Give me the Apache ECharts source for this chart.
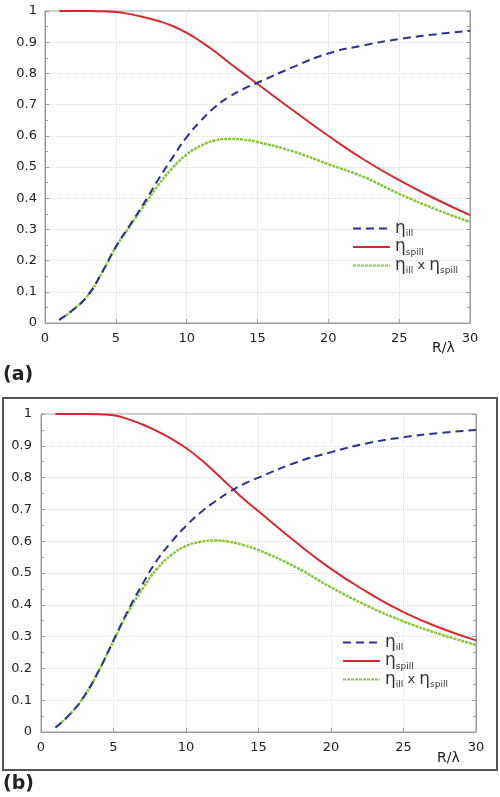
<!DOCTYPE html>
<html lang="en">
<head>
    <meta charset="UTF-8">
    <title>Efficiency vs R/lambda</title>
    <style>
        html, body { margin: 0; padding: 0; background: #fff; }
        #chart-container { width: 500px; height: 797px; }
    </style>
</head>
<body>
    <div id="chart-container"></div>
    <script src="https://cdn.jsdelivr.net/npm/echarts@6.0.0/dist/echarts.min.js"></script>
    <script>
        // R/lambda sample points (same for both panels)
        const rValues = [1, 2, 3, 4, 5, 6, 7, 8, 9, 10, 11, 12, 13, 14, 15, 17.5, 20, 22.5, 25, 27.5, 30];

        // panel (a)
        const illA   = [0.010, 0.043, 0.087, 0.160, 0.244, 0.314, 0.385, 0.460, 0.530, 0.596, 0.648, 0.692, 0.725, 0.750, 0.770, 0.820, 0.864, 0.890, 0.910, 0.925, 0.937];
        const spillA = [1.000, 1.000, 1.000, 0.999, 0.997, 0.990, 0.980, 0.968, 0.952, 0.930, 0.902, 0.870, 0.834, 0.800, 0.766, 0.682, 0.600, 0.524, 0.458, 0.399, 0.346];
        const prodA  = [0.010, 0.043, 0.087, 0.160, 0.243, 0.311, 0.377, 0.442, 0.497, 0.540, 0.568, 0.585, 0.590, 0.588, 0.580, 0.550, 0.509, 0.468, 0.414, 0.366, 0.324];

        // panel (b)
        const illB   = [0.014, 0.056, 0.114, 0.194, 0.288, 0.382, 0.465, 0.540, 0.598, 0.648, 0.690, 0.725, 0.755, 0.780, 0.800, 0.846, 0.880, 0.908, 0.927, 0.940, 0.950];
        const spillB = [1.000, 1.000, 1.000, 0.999, 0.996, 0.984, 0.967, 0.946, 0.922, 0.893, 0.858, 0.817, 0.774, 0.732, 0.694, 0.600, 0.513, 0.440, 0.377, 0.328, 0.288];
        const prodB  = [0.014, 0.056, 0.114, 0.194, 0.287, 0.376, 0.450, 0.513, 0.557, 0.585, 0.598, 0.602, 0.598, 0.587, 0.572, 0.520, 0.455, 0.397, 0.348, 0.308, 0.274];

        const yTicks = [0, 0.1, 0.2, 0.3, 0.4, 0.5, 0.6, 0.7, 0.8, 0.9, 1];
        const xTicks = [0, 5, 10, 15, 20, 25, 30];

        const legendText = {
            ill: '{e|η}{s|ill}',
            spill: '{e|η}{s|spill}',
            prod: '{e|η}{s|ill}{x| x }{e|η}{s|spill}'
        };

        function pairs(ys) {
            return rValues.map(function (r, i) { return [r, ys[i]]; });
        }

        var dom = document.getElementById('chart-container');
        var myChart = echarts.init(dom, null, { renderer: 'canvas' });

        const gridLine = { show: true, lineStyle: { color: '#dcdcdc', type: 'dotted', width: 1 } };
        const axisCol = '#9a9a9a';
        const labelStyle = { color: '#222', fontSize: 13, fontFamily: 'DejaVu Sans' };

        function xAxisFor(gridIndex) {
            return {
                type: 'value', gridIndex: gridIndex, min: 0, max: 30, interval: 5,
                axisLine: { show: true, lineStyle: { color: axisCol } },
                axisTick: { show: true, inside: true, length: 4, lineStyle: { color: axisCol } },
                axisLabel: Object.assign({ margin: 9, formatter: function (v) { return xTicks.indexOf(v) >= 0 ? v : ''; } }, labelStyle),
                splitLine: gridLine
            };
        }
        function yAxisFor(gridIndex, margin) {
            return {
                type: 'value', gridIndex: gridIndex, min: 0, max: 1, interval: 0.1,
                axisLine: { show: true, lineStyle: { color: axisCol } },
                axisTick: { show: true, inside: true, length: 4, lineStyle: { color: axisCol } },
                minorTick: { show: true, splitNumber: 2, length: 3, lineStyle: { color: axisCol } },
                axisLabel: Object.assign({ margin: margin, formatter: function (v) {
                    const t = yTicks.find(function (k) { return Math.abs(k - v) < 1e-6; });
                    return t === undefined ? '' : String(t);
                } }, labelStyle),
                splitLine: gridLine
            };
        }
        function yRightFor(gridIndex) {
            return {
                type: 'value', gridIndex: gridIndex, position: 'right', min: 0, max: 1, interval: 0.1,
                axisLine: { show: true, lineStyle: { color: axisCol } },
                axisTick: { show: true, inside: true, length: 4, lineStyle: { color: axisCol } },
                minorTick: { show: true, splitNumber: 2, length: 3, lineStyle: { color: axisCol } },
                axisLabel: { show: false },
                splitLine: { show: false }
            };
        }

        function lineSeries(name, xi, yi, ys, kind) {
            const styles = {
                ill: { color: '#2e3192', width: 2, type: [8, 5] },
                spill: { color: '#d7282f', width: 2, type: 'solid' },
                prod: { color: '#8cc63e', width: 2.5, type: [3, 1] }
            };
            return {
                name: name, type: 'line', xAxisIndex: xi, yAxisIndex: yi,
                data: pairs(ys), showSymbol: false, symbol: 'none',
                smooth: 0.5,
                color: styles[kind].color,
                lineStyle: styles[kind],
                z: kind === 'ill' ? 3 : 2
            };
        }

        const legendRich = {
            e: { fontSize: 17, color: '#333', fontFamily: 'DejaVu Sans' },
            s: { fontSize: 9, color: '#333', padding: [11, 0, 0, 0], fontFamily: 'DejaVu Sans' },
            x: { fontSize: 13, color: '#333', fontFamily: 'DejaVu Sans' }
        };
        function legendFor(names, left, top) {
            return {
                data: names, orient: 'vertical', left: left, top: top,
                itemWidth: 37, itemHeight: 10, itemGap: 0,
                selectedMode: false,
                itemStyle: { opacity: 0 },
                formatter: function (n) { return legendText[n.split('_')[0]]; },
                textStyle: { rich: legendRich }
            };
        }

        var option = {
            animation: false,
            grid: [
                { left: 45, top: 11, right: 30, height: 312, show: true, borderColor: axisCol, borderWidth: 1 },
                { left: 41, top: 414, right: 24, height: 318, show: true, borderColor: axisCol, borderWidth: 1 }
            ],
            xAxis: [xAxisFor(0), xAxisFor(1)],
            yAxis: [yAxisFor(0, 8), yRightFor(0), yAxisFor(1, 9), yRightFor(1)],
            legend: [
                legendFor(['ill_a', 'spill_a', 'prod_a'], 347, 215),
                legendFor(['ill_b', 'spill_b', 'prod_b'], 337, 629)
            ],
            graphic: [
                { type: 'rect', shape: { x: 3, y: 398, width: 494, height: 372 },
                  style: { fill: 'none', stroke: '#555', lineWidth: 2 } },
                { type: 'text', left: 432, top: 341,
                  style: { text: 'R/λ', fontSize: 14, fill: '#222', fontFamily: 'DejaVu Sans' } },
                { type: 'text', left: 437, top: 751,
                  style: { text: 'R/λ', fontSize: 14, fill: '#222', fontFamily: 'DejaVu Sans' } },
                { type: 'text', left: 3, top: 366,
                  style: { text: '(a)', fontSize: 19, fontWeight: 'bold', fill: '#222', fontFamily: 'DejaVu Sans' } },
                { type: 'text', left: 3, top: 775,
                  style: { text: '(b)', fontSize: 19, fontWeight: 'bold', fill: '#222', fontFamily: 'DejaVu Sans' } }
            ],
            series: [
                lineSeries('ill_a', 0, 0, illA, 'ill'),
                lineSeries('spill_a', 0, 0, spillA, 'spill'),
                lineSeries('prod_a', 0, 0, prodA, 'prod'),
                lineSeries('ill_b', 1, 2, illB, 'ill'),
                lineSeries('spill_b', 1, 2, spillB, 'spill'),
                lineSeries('prod_b', 1, 2, prodB, 'prod')
            ]
        };

        myChart.setOption(option);
        window.addEventListener('resize', myChart.resize);
    </script>
</body>
</html>
